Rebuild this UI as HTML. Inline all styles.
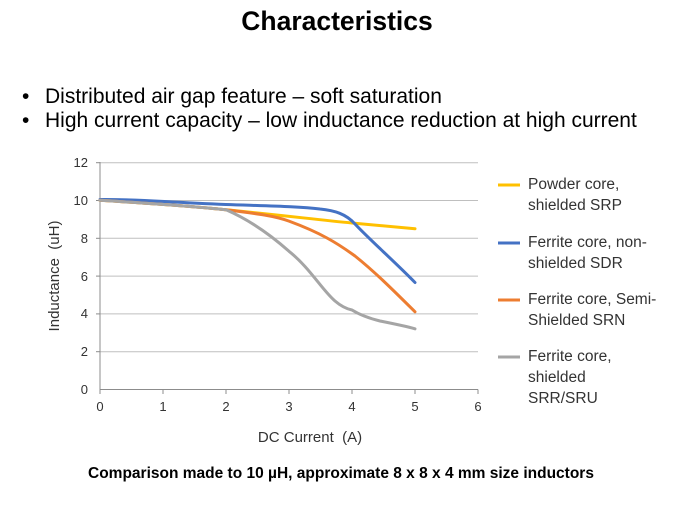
<!DOCTYPE html>
<html><head><style>
body{margin:0;width:675px;height:506px;background:#fff;font-family:"Liberation Sans",Arial,sans-serif;overflow:hidden}
text{white-space:pre}
</style></head><body>
<svg width="675" height="506" xmlns="http://www.w3.org/2000/svg" font-family="Liberation Sans, Arial, sans-serif">
<text x="337" y="30" text-anchor="middle" font-size="26.5" font-weight="bold">Characteristics</text>
<text x="22" y="103" font-size="21">•</text><text x="45" y="103" font-size="21">Distributed air gap feature – soft saturation</text>
<text x="22" y="127" font-size="21">•</text><text x="45" y="127" font-size="21">High current capacity – low inductance reduction at high current</text>
<g stroke="#bfbfbf" stroke-width="1">
<line x1="100" y1="162.7" x2="478" y2="162.7"/><line x1="100" y1="200.5" x2="478" y2="200.5"/>
<line x1="100" y1="238.3" x2="478" y2="238.3"/><line x1="100" y1="276.1" x2="478" y2="276.1"/>
<line x1="100" y1="313.9" x2="478" y2="313.9"/><line x1="100" y1="351.7" x2="478" y2="351.7"/>
</g>
<g stroke="#8c8c8c" stroke-width="1">
<line x1="100" y1="162" x2="100" y2="389.5"/><line x1="100" y1="389.5" x2="478" y2="389.5"/>
<line x1="163" y1="389.5" x2="163" y2="394"/><line x1="226" y1="389.5" x2="226" y2="394"/><line x1="289" y1="389.5" x2="289" y2="394"/><line x1="352" y1="389.5" x2="352" y2="394"/><line x1="415" y1="389.5" x2="415" y2="394"/><line x1="478" y1="389.5" x2="478" y2="394"/><line x1="100" y1="389.5" x2="100" y2="394"/>
<line x1="96" y1="162.7" x2="100" y2="162.7"/><line x1="96" y1="200.5" x2="100" y2="200.5"/><line x1="96" y1="238.3" x2="100" y2="238.3"/><line x1="96" y1="276.1" x2="100" y2="276.1"/><line x1="96" y1="313.9" x2="100" y2="313.9"/><line x1="96" y1="351.7" x2="100" y2="351.7"/>
</g>
<g font-size="13" fill="#333" text-anchor="end">
<text x="88" y="167">12</text><text x="88" y="205">10</text><text x="88" y="243">8</text><text x="88" y="281">6</text><text x="88" y="318">4</text><text x="88" y="356">2</text><text x="88" y="394">0</text>
</g>
<g font-size="13" fill="#333" text-anchor="middle">
<text x="100" y="411">0</text><text x="163" y="411">1</text><text x="226" y="411">2</text><text x="289" y="411">3</text><text x="352" y="411">4</text><text x="415" y="411">5</text><text x="478" y="411">6</text>
</g>
<text x="310" y="442" font-size="15" text-anchor="middle" fill="#333">DC Current  (A)</text>
<text transform="translate(59,276) rotate(-90)" font-size="15" text-anchor="middle" fill="#333">Inductance  (uH)</text>
<g fill="none" stroke-width="3" stroke-linejoin="round" stroke-linecap="round">
<path stroke="#ffc000" d="M100,200.3 C160,204 200,207 226,209.8 C280,215 320,220 352,223 C380,225.5 400,227.5 415,228.7"/>
<path stroke="#4472c4" d="M100,199.5 C140,199 160,202 226,204.5 C270,206 300,206.5 320,209 C335,210.5 346,214 355,224 C370,240 395,262 415,282.5"/>
<path stroke="#ed7d31" d="M100,200.3 C160,204 200,207 226,209.8 C260,214 275,216 289,221.1 C305,227 318,233 327,238 C340,245 348,251 355,256 C375,272 393,290 415,311.8"/>
<path stroke="#a5a5a5" d="M100,200.3 C160,204 200,207 226,209.8 C245,218 265,230 289,251.3 C310,268 322,290 335,301 C342,307 347,309 352,310 C360,315 368,318 380,321 C395,324 405,326 415,328.8"/>
</g>
<g font-size="15.5" fill="#333">
<line x1="498" y1="185" x2="520" y2="185" stroke="#ffc000" stroke-width="3"/>
<text x="528" y="189">Powder core,</text><text x="528" y="210">shielded SRP</text>
<line x1="498" y1="243" x2="520" y2="243" stroke="#4472c4" stroke-width="3"/>
<text x="528" y="247">Ferrite core, non-</text><text x="528" y="268">shielded SDR</text>
<line x1="498" y1="300" x2="520" y2="300" stroke="#ed7d31" stroke-width="3"/>
<text x="528" y="304">Ferrite core, Semi-</text><text x="528" y="325">Shielded SRN</text>
<line x1="498" y1="357" x2="520" y2="357" stroke="#a5a5a5" stroke-width="3"/>
<text x="528" y="361">Ferrite core,</text><text x="528" y="382">shielded</text><text x="528" y="403">SRR/SRU</text>
</g>
<text x="341" y="478" font-size="15.5" font-weight="bold" text-anchor="middle">Comparison made to 10 µH, approximate 8 x 8 x 4 mm size inductors</text>
</svg>
</body></html>
